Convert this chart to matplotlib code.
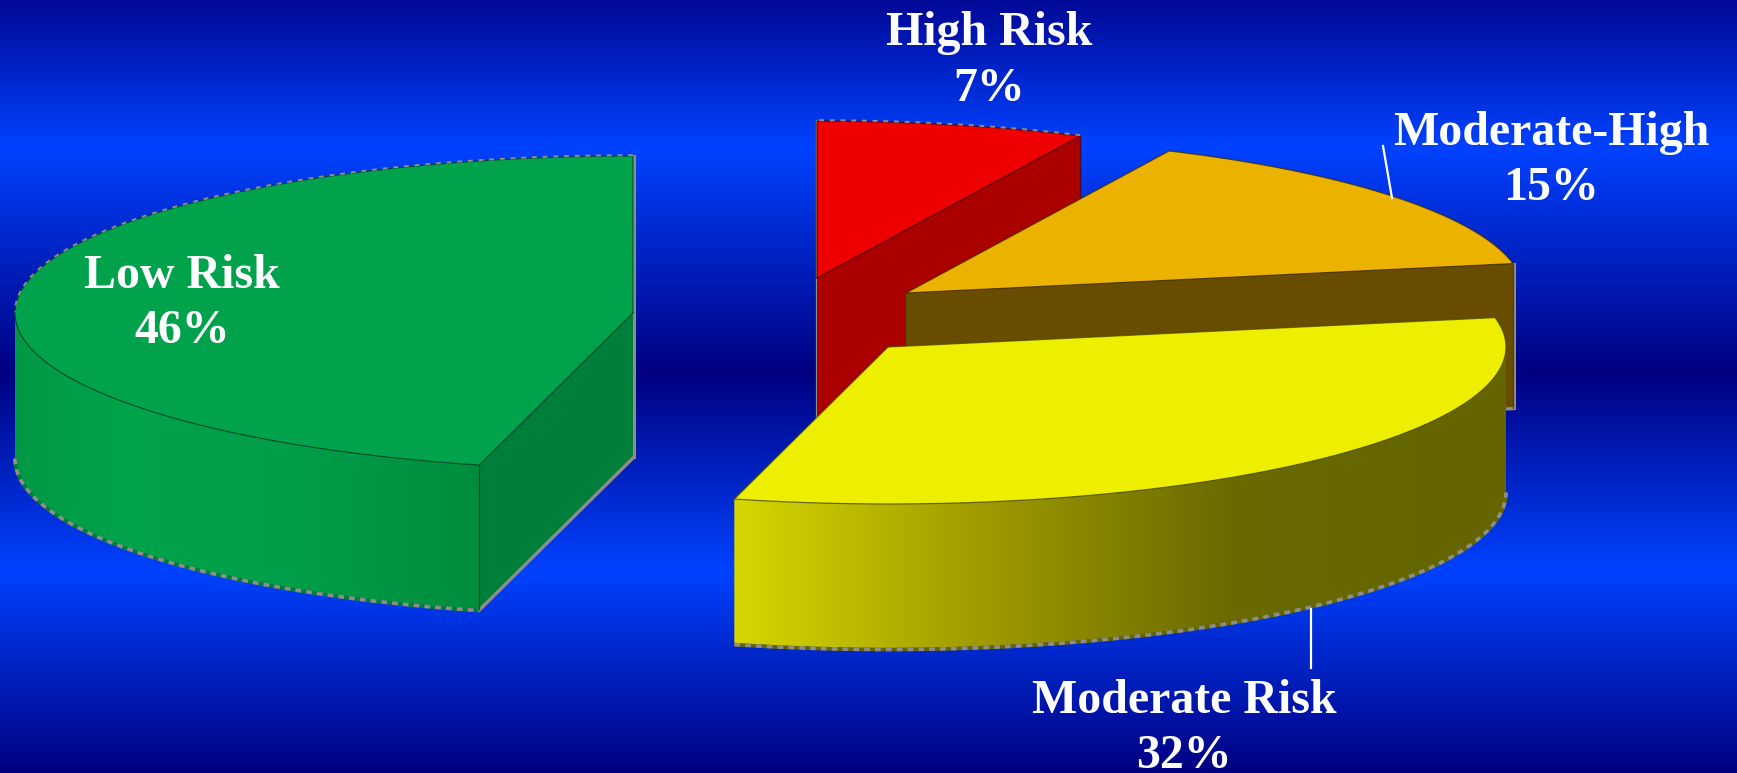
"""Exploded 3D risk pie on a banded blue background."""

import numpy as np
import matplotlib
matplotlib.use("Agg")
import matplotlib.pyplot as plt
from matplotlib.patches import Polygon


LABELS = ["High Risk", "Moderate-High", "Moderate Risk", "Low Risk"]
SHARES = [7, 15, 32, 46]

# Pixel layout of the drawing
WIDTH, HEIGHT = 1737, 773
RX, RY, DEPTH = 618, 157, 144
CENTERS = [(817, 278), (906, 293), (888, 347), (633, 313)]

TOP_COLORS = ["#EE0000", "#ECB200", "#EEEE00", "#00A34B"]
FACE_COLORS = ["#AA0000", "#684D00", "#666600", "#007F3A"]
EDGE_COLORS = ["#4A0000", "#3A2A00", "#4A4A00", "#00401E"]

# Outer wall shading, picked by x position: (x stops, rgb stops)
WALL_SHADES = {
    2: ([737, 975, 1230, 1510], [(214, 214, 0), (160, 156, 0), (106, 106, 0), (100, 100, 0)]),
    3: ([15, 120, 300, 479], [(0, 152, 70), (0, 163, 75), (0, 158, 72), (0, 140, 62)]),
}

BG_Y = [0, 147, 372, 570, 773]
BG_BLUE = [(0, 8, 150), (0, 66, 255), (0, 0, 128), (0, 66, 255), (0, 0, 128)]

# label: (x centre, baseline of name, baseline of percent)
TEXT_POS = [(989, 45, 101), (1551, 145, 200), (1184, 713, 768), (182, 288, 343)]
LEADERS = [None, ((1383, 146), (1392, 198)), ((1311, 609), (1311, 668)), None]
GRAY = "#8E8E88"


def arc(center, t0, t1, n=160):
    t = np.radians(np.linspace(t0, t1, n))
    return center[0] + RX * np.cos(t), center[1] - RY * np.sin(t)


def point(center, deg):
    x, y = arc(center, deg, deg, 1)
    return x[0], y[0]


def draw_outer_wall(ax, idx, hi, lo):
    # only the front half of the rim (-180 to 0 degrees) shows
    start = max(lo, -180)
    end = min(hi, 0)
    if end <= start:
        return
    xs, ys = arc(CENTERS[idx], start, end)

    x_stops, rgb = WALL_SHADES[idx]
    columns = np.arange(int(xs.min()), int(xs.max()) + 2)
    shade = np.stack([np.interp(columns, x_stops, [c[i] for c in rgb]) for i in range(3)], axis=1)
    wall = Polygon(np.c_[np.r_[xs, xs[::-1]], np.r_[ys, ys[::-1] + DEPTH]],
                   closed=True, transform=ax.transData, fc="none", ec="none")
    ax.add_patch(wall)
    img = ax.imshow(shade[None, :, :] / 255,
                    extent=(columns[0], columns[-1], HEIGHT, 0),
                    aspect="auto", zorder=3 + idx)
    img.set_clip_path(wall)

    # worn rim along the bottom of the wall
    ax.plot(xs, ys + DEPTH + 1.5, color=FACE_COLORS[idx], lw=2.6, zorder=3.1 + idx,
            solid_capstyle="butt")
    ax.plot(xs, ys + DEPTH + 1.5, color=GRAY, lw=2.6, zorder=3.1 + idx,
            linestyle=(0, (1.6, 1.4)))


def draw_radial_face(ax, idx, deg):
    cx = CENTERS[idx]
    px, py = point(cx, deg)
    ax.fill([cx[0], px, px, cx[0]], [cx[1], py, py + DEPTH, cx[1] + DEPTH],
            color=FACE_COLORS[idx], lw=0, zorder=3 + idx)
    ax.plot([cx[0], px], [cx[1] + DEPTH + 1, py + DEPTH + 1], color=GRAY, lw=2.4,
            zorder=3 + idx)
    # dark corner where the flat face meets the rim
    ax.plot([px, px], [py, py + DEPTH], color=EDGE_COLORS[idx], lw=0.9, alpha=0.75,
            zorder=3.2 + idx)


def draw_slice(ax, idx, hi, lo):
    cx, cy = CENTERS[idx]

    # flat faces along the two cuts, drawn if they turn toward the viewer
    if np.sin(np.radians(lo - 90)) < -1e-9:
        draw_radial_face(ax, idx, lo)
    if np.sin(np.radians(hi + 90)) < -1e-9:
        draw_radial_face(ax, idx, hi)

    if idx in WALL_SHADES:
        draw_outer_wall(ax, idx, hi, lo)

    xs, ys = arc((cx, cy), lo, hi)
    ax.fill(np.r_[cx, xs], np.r_[cy, ys], color=TOP_COLORS[idx], lw=0, zorder=3.5 + idx)
    # dark seam around the top face
    ax.plot(np.r_[cx, xs, cx], np.r_[cy, ys, cy],
            color=EDGE_COLORS[idx], lw=0.9, alpha=0.75, zorder=3.6 + idx)


def draw_trim(ax):
    # thin gray edges left along the cut sides
    red, orange, _, green = CENTERS
    ax.plot([red[0], red[0]], [red[1] - RY, red[1] + DEPTH], color=GRAY, lw=1.6, zorder=2.9)
    ax.plot([green[0] + 1, green[0] + 1], [green[1] - RY, green[1] + DEPTH],
            color=GRAY, lw=2.2, zorder=2.9)
    ox, oy = point(orange, 10.8)
    ax.plot([ox + 1, ox + 1], [oy, oy + DEPTH], color=GRAY, lw=2.2, zorder=3.9)

    for idx, lo, hi in [(0, 64.8, 90), (3, 90, 180)]:
        xs, ys = arc(CENTERS[idx], lo, hi)
        ax.plot(xs, ys - 0.8, color=GRAY, lw=1.4, linestyle=(0, (2.5, 3)), zorder=3.7 + idx)


def main():
    plt.rcParams["font.family"] = ["Liberation Serif", "DejaVu Serif"]
    fig = plt.figure(figsize=(WIDTH / 100, HEIGHT / 100), dpi=100)
    ax = fig.add_axes([0, 0, 1, 1])

    rows = np.arange(HEIGHT)
    band = np.stack([np.interp(rows, BG_Y, [c[i] for c in BG_BLUE]) for i in range(3)], axis=1)
    ax.imshow(band[:, None, :] / 255, extent=(0, WIDTH, HEIGHT, 0), aspect="auto", zorder=0)

    draw_trim(ax)

    hi = 90.0
    for idx, share in enumerate(SHARES):
        lo = hi - share * 3.6
        draw_slice(ax, idx, hi, lo)
        hi = lo

    for name, share, pos, leader in zip(LABELS, SHARES, TEXT_POS, LEADERS):
        x, y_name, y_pct = pos
        ax.text(x, y_name, name, color="white", fontsize=34.5, fontweight="bold",
                ha="center", va="baseline", zorder=20)
        ax.text(x, y_pct, f"{share}%", color="white", fontsize=34.5, fontweight="bold",
                ha="center", va="baseline", zorder=20)
        if leader:
            ax.plot(*zip(*leader), color="white", lw=1.6, zorder=19)

    ax.set_xlim(0, WIDTH)
    ax.set_ylim(HEIGHT, 0)
    ax.axis("off")
    fig.savefig("out.png", dpi=100)
    plt.close(fig)


if __name__ == "__main__":
    main()
